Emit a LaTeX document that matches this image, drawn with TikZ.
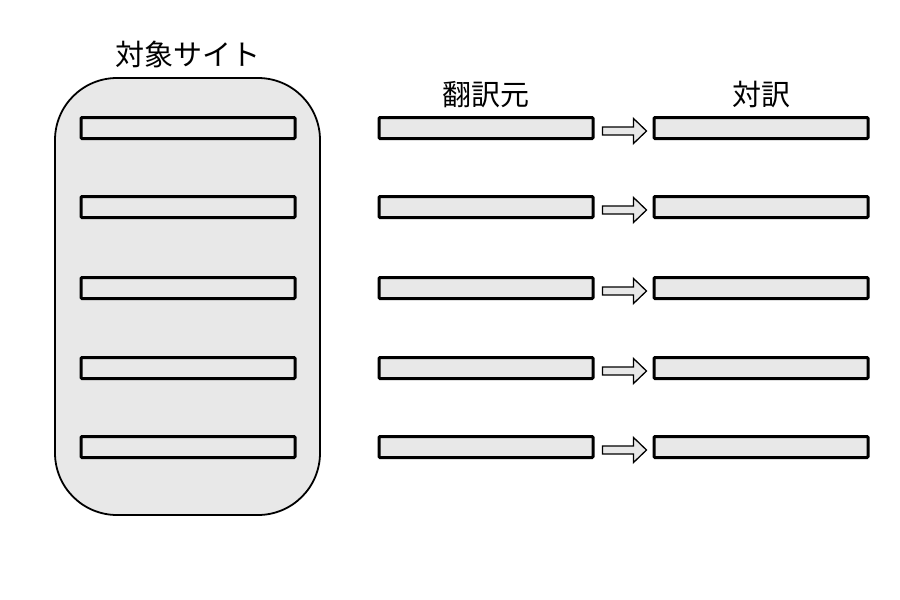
\documentclass[tikz,border=0pt]{standalone}
\usepackage{fontspec}
\newfontfamily\jp{Noto Sans CJK JP}
\usetikzlibrary{calc}
\definecolor{boxgray}{HTML}{E8E8E8}
\tikzset{
  bar/.style={draw=black, line width=3pt, fill=boxgray, minimum width=214pt, minimum height=21pt, inner sep=0pt, rounded corners=1pt},
  site/.style={draw=black, line width=1.8pt, fill=boxgray, rounded corners=62pt},
  lbl/.style={font=\jp\fontsize{29}{34}\selectfont, inner sep=0pt},
  blockarrow/.style={draw=black, line width=1.3pt, fill=boxgray, line join=miter}
}
\begin{document}
\begin{tikzpicture}[x=1pt,y=-1pt]
\useasboundingbox (0,0) rectangle (900,600);
\draw[site] (55,78) rectangle (320,515);
\node[lbl] (site) at (188,54) {対象サイト};
\node[lbl] (src) at (486,95) {翻訳元};
\node[lbl] (tgt) at (761,95) {対訳};
\foreach \i/\y in {1/128,2/207,3/288,4/368,5/447}{
  \node[bar] (l\i) at (188,\y) {};
  \node[bar] (m\i) at (486,\y) {};
  \node[bar] (r\i) at (761,\y) {};
  \coordinate (c\i) at ($(m\i.east)!0.5!(r\i.west)+(0,3)$);
  \draw[blockarrow, shift={(c\i)}] (-21,-4) -- (10,-4) -- (10,-12.5) -- (23,0) -- (10,12.5) -- (10,4) -- (-21,4) -- cycle;
}
\end{tikzpicture}
\end{document}
